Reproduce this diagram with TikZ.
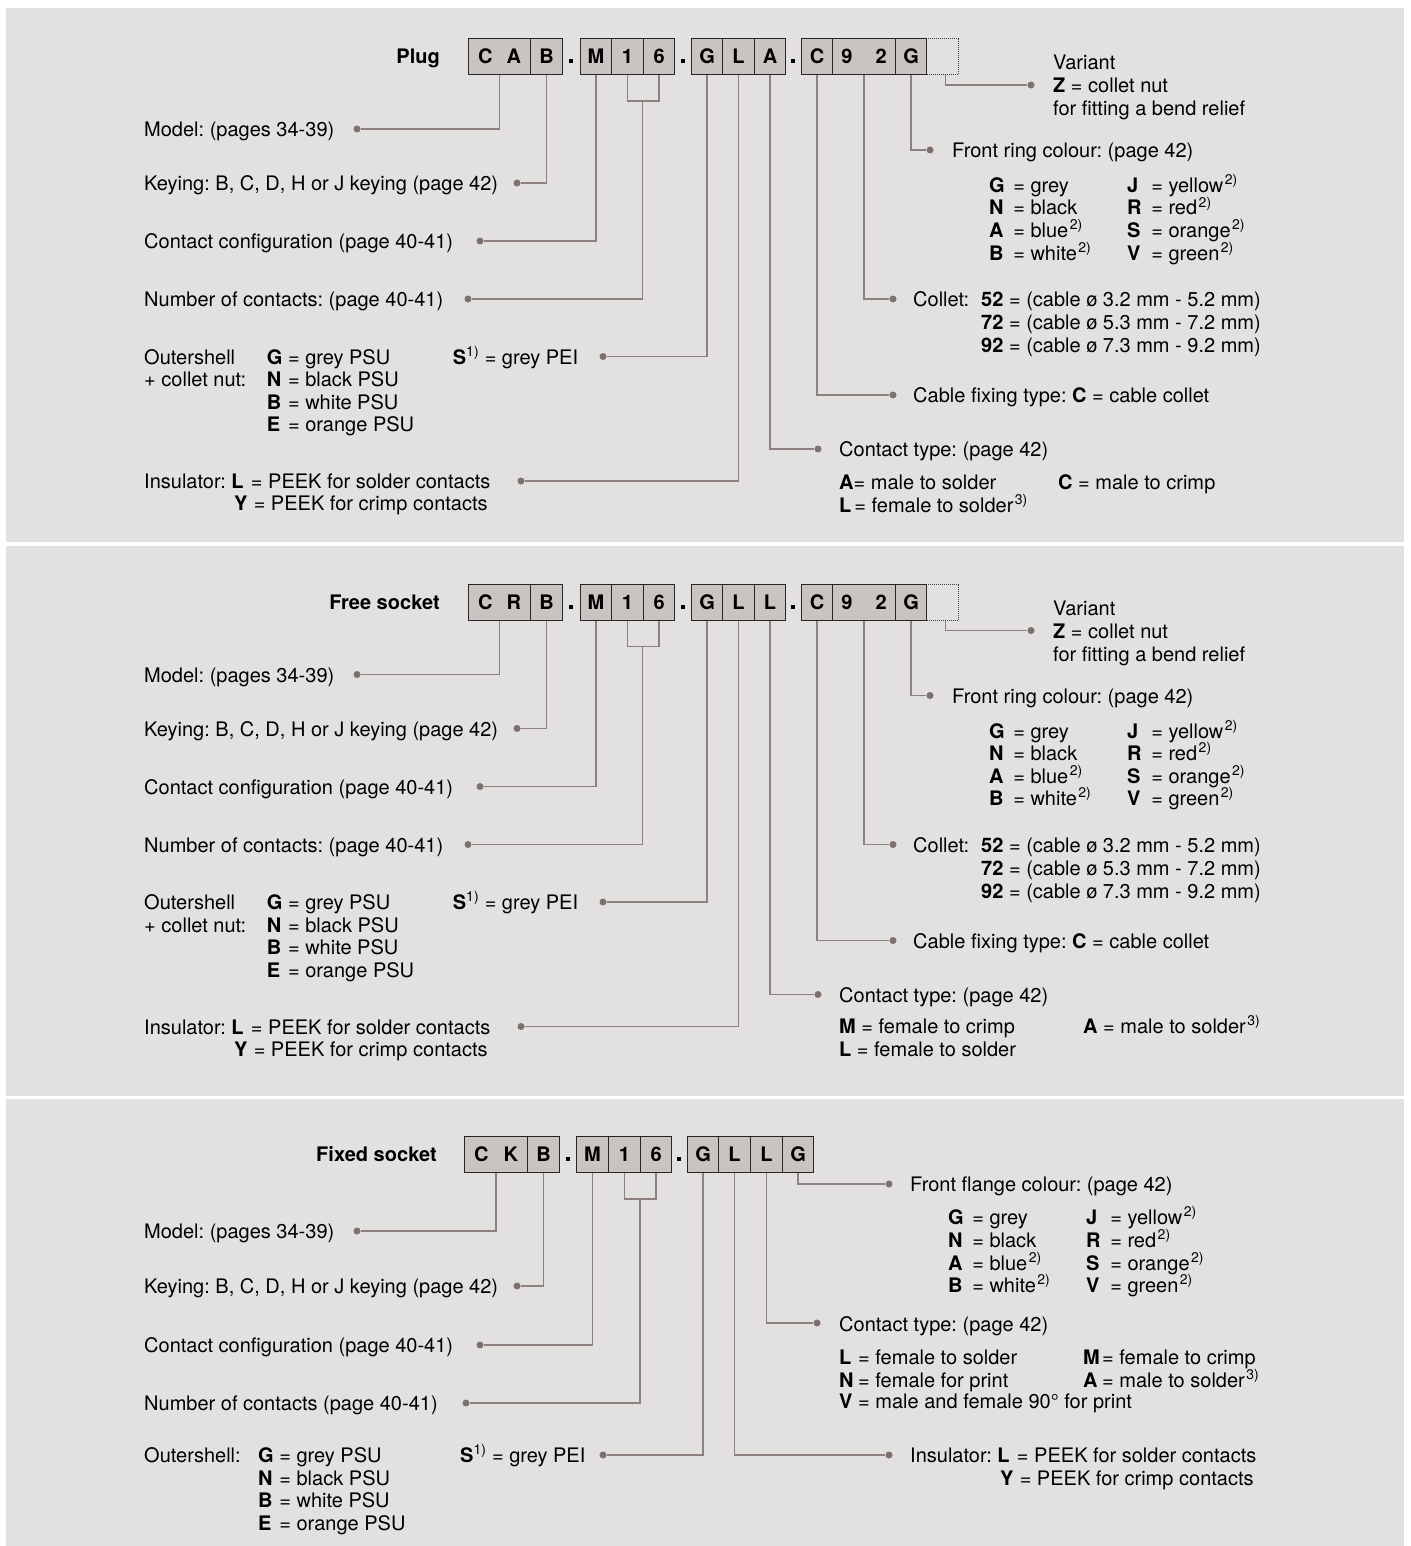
\documentclass[tikz,border=0pt]{standalone}
\usepackage{fontspec}
\setmainfont{TeX Gyre Heros}
\frenchspacing
\definecolor{bgc}{HTML}{E2E1DF}
\definecolor{cellg}{HTML}{C9C4C1}
\definecolor{wirec}{HTML}{8C8080}
\definecolor{dotc}{HTML}{7E6F70}
\newcommand\fs{\fontsize{20}{24}\selectfont\frenchspacing}
\newcommand\ltr[2]{\makebox[#1][l]{\textbf{#2}}}
\newcommand\sups[1]{\kern1.5pt\textsuperscript{#1}}
\tikzset{
 cell/.style={draw=black!85, line width=1.1pt, fill=cellg, minimum height=36, inner sep=0, anchor=north west, font=\fs\bfseries, text height=14.4, text depth=0},
 extbox/.style={draw=black!75, densely dotted, line width=1pt, minimum height=36, minimum width=32, inner sep=0, anchor=north west},
 wire/.style={draw=wirec, line width=1.3pt},
 cdot/.style={circle, fill=dotc, inner sep=0, minimum size=7},
 txt/.style={anchor=base west, inner sep=0, font=\fs},
 rtxt/.style={anchor=base east, inner sep=0, font=\fs\bfseries},
}
\begin{document}
\begin{tikzpicture}[x=1pt,y=-1pt]
\fill[white] (0,0) rectangle (1410,1546);
\fill[bgc] (6,8) rectangle (1404,542);
\fill[bgc] (6,546) rectangle (1404,1096);
\fill[bgc] (6,1099) rectangle (1404,1546);

% ================= PANEL 1 : Plug =================
\begin{scope}
\node[rtxt] (p1lab) at (440,63.5) {Plug};
\node[extbox] (p1x) at (926,38) {};
\node[cell, minimum width=62] (p1a) at (468,38) {C\hspace{14pt}A};
\node[cell, minimum width=32] (p1b) at (530,38) {B};
\node[cell, minimum width=31] (p1c) at (580,38) {M};
\node[cell, minimum width=32] (p1d) at (611,38) {1};
\node[cell, minimum width=31] (p1e) at (643,38) {6};
\node[cell, minimum width=31] (p1f) at (691,38) {G};
\node[cell, minimum width=32] (p1g) at (722,38) {L};
\node[cell, minimum width=31] (p1h) at (754,38) {A};
\node[cell, minimum width=31] (p1i) at (801,38) {C};
\node[cell, minimum width=63] (p1j) at (832,38) {9\hspace{23pt}2};
\node[cell, minimum width=31] (p1k) at (895,38) {G};
\fill (569,59) rectangle (573,63);
\fill (681,59) rectangle (685,63);
\fill (791,59) rectangle (795,63);

\node[cdot] (p1dm) at (357,129) {};
\node[cdot] (p1dk) at (517,183) {};
\node[cdot] (p1dc) at (480,241) {};
\node[cdot] (p1dn) at (468,299) {};
\node[cdot] (p1do) at (603,356.5) {};
\node[cdot] (p1di) at (521,481) {};
\node[cdot] (p1dv) at (1031,85) {};
\node[cdot] (p1df) at (930,150) {};
\node[cdot] (p1dl) at (893,299) {};
\node[cdot] (p1dx) at (893,395) {};
\node[cdot] (p1dt) at (818,449) {};
\coordinate (p1br) at (642.5,101);
\coordinate (p1xv) at ([xshift=3pt]p1x.south);

\draw[wire] (p1a.south) |- (p1dm);
\draw[wire] (p1b.south) |- (p1dk);
\draw[wire] (p1c.south) |- (p1dc);
\draw[wire] (p1d.south) |- (p1br) -| (p1e.south);
\draw[wire] (p1br) |- (p1dn);
\draw[wire] (p1f.south) |- (p1do);
\draw[wire] (p1g.south) |- (p1di);
\draw[wire] (p1h.south) |- (p1dt);
\draw[wire] (p1i.south) |- (p1dx);
\draw[wire] (p1j.south) |- (p1dl);
\draw[wire] (p1k.south) |- (p1df);
\draw[wire] (p1xv) |- (p1dv);

\node[txt] (p1t1) at (144,136.5) {Model: (pages 34-39)};
\node[txt] (p1t2) at (144,190.5) {Keying: B, C, D, H or J keying (page 42)};
\node[txt] (p1t3) at (144,248.5) {Contact configuration (page 40-41)};
\node[txt] (p1t4) at (144,306.5) {Number of contacts: (page 40-41)};
\node[txt] (p1t5) at (144,364) {Outershell};
\node[txt] (p1t6) at (144,386.5) {+ collet nut:};
\node[txt] (p1t7) at (266.7,364) {\ltr{15.6pt}{G} = grey PSU};
\node[txt] (p1t8) at (266.7,386.5) {\ltr{15.6pt}{N} = black PSU};
\node[txt] (p1t9) at (266.7,409) {\ltr{15.6pt}{B} = white PSU};
\node[txt] (p1t10) at (266.7,431.8) {\ltr{15.6pt}{E} = orange PSU};
\node[txt] (p1t11) at (452.7,364) {\textbf{S}\textsuperscript{1)} = grey PEI};
\node[txt] (p1t12) at (144,488.5) {Insulator: \ltr{14pt}{L} = PEEK for solder contacts};
\node[txt] (p1t13) at (234,510.5) {\ltr{14pt}{Y} = PEEK for crimp contacts};

\node[txt] (p1v1) at (1053,70) {Variant};
\node[txt] (p1v2) at (1053,92.5) {\textbf{Z} = collet nut};
\node[txt] (p1v3) at (1053,115.5) {for fitting a bend relief};
\node[txt] (p1f0) at (952,158) {Front ring colour: (page 42)};
\node[txt] (p1f1) at (989,192.5) {\ltr{18.5pt}{G} = grey};
\node[txt] (p1f2) at (989,215) {\ltr{18.5pt}{N} = black};
\node[txt] (p1f3) at (989,237.5) {\ltr{18.5pt}{A} = blue\sups{2)}};
\node[txt] (p1f4) at (989,260) {\ltr{18.5pt}{B} = white\sups{2)}};
\node[txt] (p1f5) at (1127,192.5) {\ltr{18.5pt}{J} = yellow\sups{2)}};
\node[txt] (p1f6) at (1127,215) {\ltr{18.5pt}{R} = red\sups{2)}};
\node[txt] (p1f7) at (1127,237.5) {\ltr{18.5pt}{S} = orange\sups{2)}};
\node[txt] (p1f8) at (1127,260) {\ltr{18.5pt}{V} = green\sups{2)}};
\node[txt] (p1c0) at (913,306.5) {Collet:};
\node[txt] (p1c1) at (981,306.5) {\textbf{52} = (cable ø 3.2 mm - 5.2 mm)};
\node[txt] (p1c2) at (981,329.5) {\textbf{72} = (cable ø 5.3 mm - 7.2 mm)};
\node[txt] (p1c3) at (981,352.5) {\textbf{92} = (cable ø 7.3 mm - 9.2 mm)};
\node[txt] (p1x1) at (913,402.5) {Cable fixing type: \textbf{C} = cable collet};
\node[txt] (p1k0) at (839,456.5) {Contact type: (page 42)};
\node[txt] (p1k1) at (839,489.5) {\textbf{A}= male to solder};
\node[txt] (p1k2) at (1058,489.5) {\textbf{C} = male to crimp};
\node[txt] (p1k3) at (839,512.5) {\textbf{L}\kern3pt= female to solder\sups{3)}};
\end{scope}

% ================= PANEL 2 : Free socket =================
\begin{scope}[yshift=-545.5pt]
\node[rtxt] (p2lab) at (440,63.5) {Free socket};
\node[extbox] (p2x) at (926,38) {};
\node[cell, minimum width=62] (p2a) at (468,38) {C\hspace{14pt}R};
\node[cell, minimum width=32] (p2b) at (530,38) {B};
\node[cell, minimum width=31] (p2c) at (580,38) {M};
\node[cell, minimum width=32] (p2d) at (611,38) {1};
\node[cell, minimum width=31] (p2e) at (643,38) {6};
\node[cell, minimum width=31] (p2f) at (691,38) {G};
\node[cell, minimum width=32] (p2g) at (722,38) {L};
\node[cell, minimum width=31] (p2h) at (754,38) {L};
\node[cell, minimum width=31] (p2i) at (801,38) {C};
\node[cell, minimum width=63] (p2j) at (832,38) {9\hspace{23pt}2};
\node[cell, minimum width=31] (p2k) at (895,38) {G};
\fill (569,59) rectangle (573,63);
\fill (681,59) rectangle (685,63);
\fill (791,59) rectangle (795,63);

\node[cdot] (p2dm) at (357,129) {};
\node[cdot] (p2dk) at (517,183) {};
\node[cdot] (p2dc) at (480,241) {};
\node[cdot] (p2dn) at (468,299) {};
\node[cdot] (p2do) at (603,356.5) {};
\node[cdot] (p2di) at (521,481) {};
\node[cdot] (p2dv) at (1031,85) {};
\node[cdot] (p2df) at (930,150) {};
\node[cdot] (p2dl) at (893,299) {};
\node[cdot] (p2dx) at (893,395) {};
\node[cdot] (p2dt) at (818,449) {};
\coordinate (p2br) at (642.5,101);
\coordinate (p2xv) at ([xshift=3pt]p2x.south);

\draw[wire] (p2a.south) |- (p2dm);
\draw[wire] (p2b.south) |- (p2dk);
\draw[wire] (p2c.south) |- (p2dc);
\draw[wire] (p2d.south) |- (p2br) -| (p2e.south);
\draw[wire] (p2br) |- (p2dn);
\draw[wire] (p2f.south) |- (p2do);
\draw[wire] (p2g.south) |- (p2di);
\draw[wire] (p2h.south) |- (p2dt);
\draw[wire] (p2i.south) |- (p2dx);
\draw[wire] (p2j.south) |- (p2dl);
\draw[wire] (p2k.south) |- (p2df);
\draw[wire] (p2xv) |- (p2dv);

\node[txt] (p2t1) at (144,136.5) {Model: (pages 34-39)};
\node[txt] (p2t2) at (144,190.5) {Keying: B, C, D, H or J keying (page 42)};
\node[txt] (p2t3) at (144,248.5) {Contact configuration (page 40-41)};
\node[txt] (p2t4) at (144,306.5) {Number of contacts: (page 40-41)};
\node[txt] (p2t5) at (144,364) {Outershell};
\node[txt] (p2t6) at (144,386.5) {+ collet nut:};
\node[txt] (p2t7) at (266.7,364) {\ltr{15.6pt}{G} = grey PSU};
\node[txt] (p2t8) at (266.7,386.5) {\ltr{15.6pt}{N} = black PSU};
\node[txt] (p2t9) at (266.7,409) {\ltr{15.6pt}{B} = white PSU};
\node[txt] (p2t10) at (266.7,431.8) {\ltr{15.6pt}{E} = orange PSU};
\node[txt] (p2t11) at (452.7,364) {\textbf{S}\textsuperscript{1)} = grey PEI};
\node[txt] (p2t12) at (144,488.5) {Insulator: \ltr{14pt}{L} = PEEK for solder contacts};
\node[txt] (p2t13) at (234,510.5) {\ltr{14pt}{Y} = PEEK for crimp contacts};

\node[txt] (p2v1) at (1053,70) {Variant};
\node[txt] (p2v2) at (1053,92.5) {\textbf{Z} = collet nut};
\node[txt] (p2v3) at (1053,115.5) {for fitting a bend relief};
\node[txt] (p2f0) at (952,158) {Front ring colour: (page 42)};
\node[txt] (p2f1) at (989,192.5) {\ltr{18.5pt}{G} = grey};
\node[txt] (p2f2) at (989,215) {\ltr{18.5pt}{N} = black};
\node[txt] (p2f3) at (989,237.5) {\ltr{18.5pt}{A} = blue\sups{2)}};
\node[txt] (p2f4) at (989,260) {\ltr{18.5pt}{B} = white\sups{2)}};
\node[txt] (p2f5) at (1127,192.5) {\ltr{18.5pt}{J} = yellow\sups{2)}};
\node[txt] (p2f6) at (1127,215) {\ltr{18.5pt}{R} = red\sups{2)}};
\node[txt] (p2f7) at (1127,237.5) {\ltr{18.5pt}{S} = orange\sups{2)}};
\node[txt] (p2f8) at (1127,260) {\ltr{18.5pt}{V} = green\sups{2)}};
\node[txt] (p2c0) at (913,306.5) {Collet:};
\node[txt] (p2c1) at (981,306.5) {\textbf{52} = (cable ø 3.2 mm - 5.2 mm)};
\node[txt] (p2c2) at (981,329.5) {\textbf{72} = (cable ø 5.3 mm - 7.2 mm)};
\node[txt] (p2c3) at (981,352.5) {\textbf{92} = (cable ø 7.3 mm - 9.2 mm)};
\node[txt] (p2x1) at (913,402.5) {Cable fixing type: \textbf{C} = cable collet};
\node[txt] (p2k0) at (839,456.5) {Contact type: (page 42)};
\node[txt] (p2k1) at (839,488) {\textbf{M} = female to crimp};
\node[txt] (p2k2) at (1083,488) {\textbf{A} = male to solder\sups{3)}};
\node[txt] (p2k3) at (839,511) {\textbf{L} = female to solder};
\end{scope}

% ================= PANEL 3 : Fixed socket =================
\node[rtxt] (p3lab) at (437,1161.5) {Fixed socket};
\node[cell, minimum width=63] (p3a) at (464,1136) {C\hspace{15pt}K};
\node[cell, minimum width=32] (p3b) at (527,1136) {B};
\node[cell, minimum width=32] (p3c) at (576,1136) {M};
\node[cell, minimum width=32] (p3d) at (608,1136) {1};
\node[cell, minimum width=31] (p3e) at (640,1136) {6};
\node[cell, minimum width=31] (p3f) at (687,1136) {G};
\node[cell, minimum width=32] (p3g) at (718,1136) {L};
\node[cell, minimum width=32] (p3h) at (750,1136) {L};
\node[cell, minimum width=31] (p3i) at (782,1136) {G};
\fill (565.5,1157) rectangle (569.5,1161);
\fill (677,1157) rectangle (681,1161);

\node[cdot] (p3dm) at (357,1231) {};
\node[cdot] (p3dk) at (517,1286) {};
\node[cdot] (p3dc) at (480,1345) {};
\node[cdot] (p3dn) at (466,1403) {};
\node[cdot] (p3do) at (603,1455) {};
\node[cdot] (p3df) at (889,1184) {};
\node[cdot] (p3dt) at (817,1323) {};
\node[cdot] (p3di) at (889,1455) {};
\coordinate (p3br) at (640,1199);

\draw[wire] (p3a.south) |- (p3dm);
\draw[wire] (p3b.south) |- (p3dk);
\draw[wire] (p3c.south) |- (p3dc);
\draw[wire] (p3d.south) |- (p3br) -| (p3e.south);
\draw[wire] (p3br) |- (p3dn);
\draw[wire] (p3f.south) |- (p3do);
\draw[wire] (p3g.south) |- (p3di);
\draw[wire] (p3h.south) |- (p3dt);
\draw[wire] (p3i.south) |- (p3df);

\node[txt] (p3t1) at (144,1238.5) {Model: (pages 34-39)};
\node[txt] (p3t2) at (144,1293.5) {Keying: B, C, D, H or J keying (page 42)};
\node[txt] (p3t3) at (144,1352.5) {Contact configuration (page 40-41)};
\node[txt] (p3t4) at (144,1410.5) {Number of contacts (page 40-41)};
\node[txt] (p3t5) at (144,1462.5) {Outershell:};
\node[txt] (p3t7) at (258,1462.5) {\ltr{15.6pt}{G} = grey PSU};
\node[txt] (p3t8) at (258,1485.5) {\ltr{15.6pt}{N} = black PSU};
\node[txt] (p3t9) at (258,1507.5) {\ltr{15.6pt}{B} = white PSU};
\node[txt] (p3t10) at (258,1530.5) {\ltr{15.6pt}{E} = orange PSU};
\node[txt] (p3t11) at (460,1462.5) {\textbf{S}\textsuperscript{1)} = grey PEI};

\node[txt] (p3f0) at (910,1191.5) {Front flange colour: (page 42)};
\node[txt] (p3f1) at (948,1224.5) {\ltr{18.5pt}{G} = grey};
\node[txt] (p3f2) at (948,1247.5) {\ltr{18.5pt}{N} = black};
\node[txt] (p3f3) at (948,1270.5) {\ltr{18.5pt}{A} = blue\sups{2)}};
\node[txt] (p3f4) at (948,1292.5) {\ltr{18.5pt}{B} = white\sups{2)}};
\node[txt] (p3f5) at (1086,1224.5) {\ltr{18.5pt}{J} = yellow\sups{2)}};
\node[txt] (p3f6) at (1086,1247.5) {\ltr{18.5pt}{R} = red\sups{2)}};
\node[txt] (p3f7) at (1086,1270.5) {\ltr{18.5pt}{S} = orange\sups{2)}};
\node[txt] (p3f8) at (1086,1292.5) {\ltr{18.5pt}{V} = green\sups{2)}};
\node[txt] (p3k0) at (839,1331) {Contact type: (page 42)};
\node[txt] (p3k1) at (839,1364.5) {\ltr{19pt}{L}= female to solder};
\node[txt] (p3k2) at (1083,1364.5) {\ltr{19pt}{M}= female to crimp};
\node[txt] (p3k3) at (839,1387.5) {\ltr{19pt}{N}= female for print};
\node[txt] (p3k4) at (1083,1387.5) {\ltr{19pt}{A}= male to solder\sups{3)}};
\node[txt] (p3k5) at (839,1408.5) {\ltr{19pt}{V}= male and female 90° for print};
\node[txt] (p3i1) at (910,1462.5) {Insulator: \ltr{14pt}{L} = PEEK for solder contacts};
\node[txt] (p3i2) at (1000,1485.5) {\ltr{14pt}{Y} = PEEK for crimp contacts};
\end{tikzpicture}
\end{document}
